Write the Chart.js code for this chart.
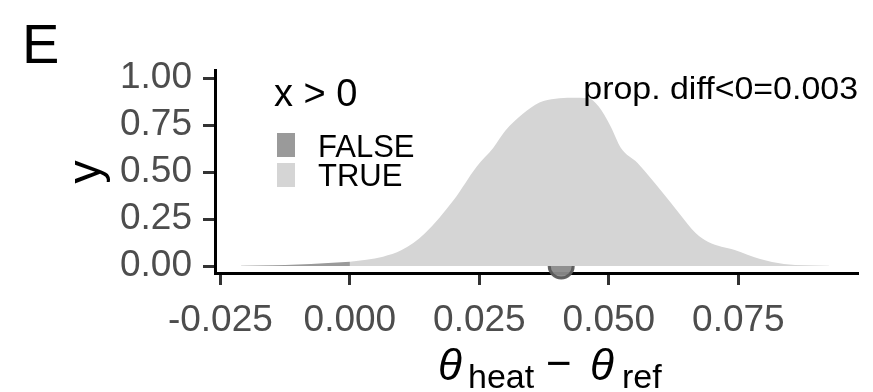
<!DOCTYPE html>
<html>
<head>
<meta charset="utf-8">
<script src="https://cdn.jsdelivr.net/npm/chart.js@4.4.1/dist/chart.umd.min.js"></script>
<style>
  html, body { margin: 0; padding: 0; background: #fff; }
  #wrap { width: 873px; height: 392px; }
</style>
</head>
<body>
<div id="wrap"><canvas id="densityChart" width="873" height="392"></canvas></div>
<script>
// values
const densityX = [-0.021, -0.015, -0.010, -0.005, 0.000, 0.0064, 0.010, 0.0145, 0.020, 0.0245, 0.0277,
    0.030, 0.0334, 0.0366, 0.0397, 0.0428, 0.046, 0.048, 0.0504, 0.0523, 0.0555, 0.0574,
    0.0604, 0.0636, 0.0668, 0.0692, 0.0743, 0.0792, 0.0838, 0.0925];
const densityY = [0.001, 0.004, 0.008, 0.015, 0.023, 0.050, 0.085, 0.175, 0.350, 0.530, 0.630,
    0.720, 0.810, 0.870, 0.890, 0.895, 0.893, 0.850, 0.740, 0.630, 0.550, 0.490,
    0.390, 0.280, 0.175, 0.128, 0.085, 0.037, 0.011, 0.002];
const pointX = [0.0408];
const pointY = [0];
const xTicks = [-0.025, 0.000, 0.025, 0.050, 0.075];
const yTicks = [0.00, 0.25, 0.50, 0.75, 1.00];
const legendTitle = 'x > 0';
const legendLabels = ['FALSE', 'TRUE'];
const legendColors = ['#9a9a9a', '#d5d5d5'];
const noteText = 'prop. diff<0=0.003';

const FONT = "'Liberation Sans', Arial, sans-serif";

document.addEventListener('DOMContentLoaded', function() {
    const pts = densityX.map((x, i) => ({ x: x, y: densityY[i] }));
    const falsePart = pts.filter(p => p.x <= 0);
    const truePart = pts.filter(p => p.x >= 0);

    // extra texts: panel letter, axis titles, legend, annotation
    const extras = {
        id: 'extras',
        afterDraw(chart) {
            const ctx = chart.ctx;
            ctx.save();
            ctx.fillStyle = '#000';
            ctx.textBaseline = 'alphabetic';

            ctx.font = '56px ' + FONT;
            ctx.textAlign = 'left';
            ctx.fillText('E', 22, 63);

            // y title, rotated
            ctx.save();
            ctx.translate(100, 172);
            ctx.rotate(-Math.PI / 2);
            ctx.font = '46px ' + FONT;
            ctx.textAlign = 'center';
            ctx.fillText('y', 0, 0);
            ctx.restore();

            // x title θheat − θref, pieces placed from the centre
            const cx = 550;
            const parts = [
                { t: 'θ', f: 'italic 44px ' + FONT, dx: -112, dy: 0 },
                { t: 'heat', f: '34px ' + FONT, dx: -82, dy: 8 },
                { t: '−', f: '44px ' + FONT, dx: -4, dy: -2 },
                { t: 'θ', f: 'italic 44px ' + FONT, dx: 40, dy: 0 },
                { t: 'ref', f: '34px ' + FONT, dx: 72, dy: 8 }
            ];
            parts.forEach(p => {
                ctx.font = p.f;
                ctx.fillText(p.t, cx + p.dx, 380 + p.dy);
            });

            // legend
            ctx.font = '38px ' + FONT;
            ctx.fillText(legendTitle, 274, 106);
            legendLabels.forEach((lab, i) => {
                ctx.fillStyle = legendColors[i];
                ctx.fillRect(277, 133 + i * 30, 18, 24);
                ctx.fillStyle = '#000';
                ctx.font = '31px ' + FONT;
                ctx.fillText(lab, 318, 157 + i * 29);
            });

            // annotation
            ctx.save();
            ctx.translate(858, 99);
            ctx.scale(1.06, 1);
            ctx.font = '32px ' + FONT;
            ctx.textAlign = 'right';
            ctx.fillText(noteText, 0, 0);
            ctx.restore();

            ctx.restore();
        }
    };

    const ctx = document.getElementById('densityChart').getContext('2d');
    new Chart(ctx, {
        type: 'line',
        data: {
            datasets: [{
                label: legendLabels[1],
                data: truePart,
                backgroundColor: legendColors[1],
                borderWidth: 0,
                pointRadius: 0,
                fill: 'origin',
                cubicInterpolationMode: 'monotone'
            }, {
                label: legendLabels[0],
                data: falsePart,
                backgroundColor: legendColors[0],
                borderWidth: 0,
                pointRadius: 0,
                fill: 'origin',
                cubicInterpolationMode: 'monotone'
            }, {
                type: 'scatter',
                label: 'point',
                data: pointX.map((x, i) => ({ x: x, y: pointY[i] })),
                backgroundColor: 'rgba(138,138,138,0.95)',
                borderColor: 'rgba(90,90,90,0.95)',
                borderWidth: 3,
                pointRadius: 12,
                clip: false
            }]
        },
        options: {
            responsive: false,
            animation: false,
            layout: { padding: { top: 70, left: 0, right: 0, bottom: 0 } },
            plugins: { legend: { display: false }, tooltip: { enabled: false } },
            scales: {
                x: {
                    type: 'linear',
                    min: -0.02604,
                    max: 0.0981,
                    afterBuildTicks: s => { s.ticks = xTicks.map(v => ({ value: v })); },
                    afterFit: s => { s.height = 119; },
                    grid: { drawOnChartArea: false, drawTicks: true, tickLength: 12, tickWidth: 3, tickColor: '#333' },
                    border: { display: true, color: '#000', width: 3 },
                    ticks: {
                        padding: 14,
                        color: '#4d4d4d',
                        font: { family: FONT, size: 37 },
                        maxRotation: 0,
                        callback: v => v.toFixed(3)
                    }
                },
                y: {
                    min: -0.037,
                    max: 1.043,
                    afterBuildTicks: s => { s.ticks = yTicks.map(v => ({ value: v })); },
                    afterFit: s => { s.width = 215; },
                    grid: { drawOnChartArea: false, drawTicks: true, tickLength: 12, tickWidth: 3, tickColor: '#333' },
                    border: { display: true, color: '#000', width: 3 },
                    ticks: {
                        padding: 11,
                        color: '#4d4d4d',
                        font: { family: FONT, size: 37 },
                        callback: v => v.toFixed(2)
                    }
                }
            }
        },
        plugins: [extras]
    });
});
</script>
</body>
</html>
